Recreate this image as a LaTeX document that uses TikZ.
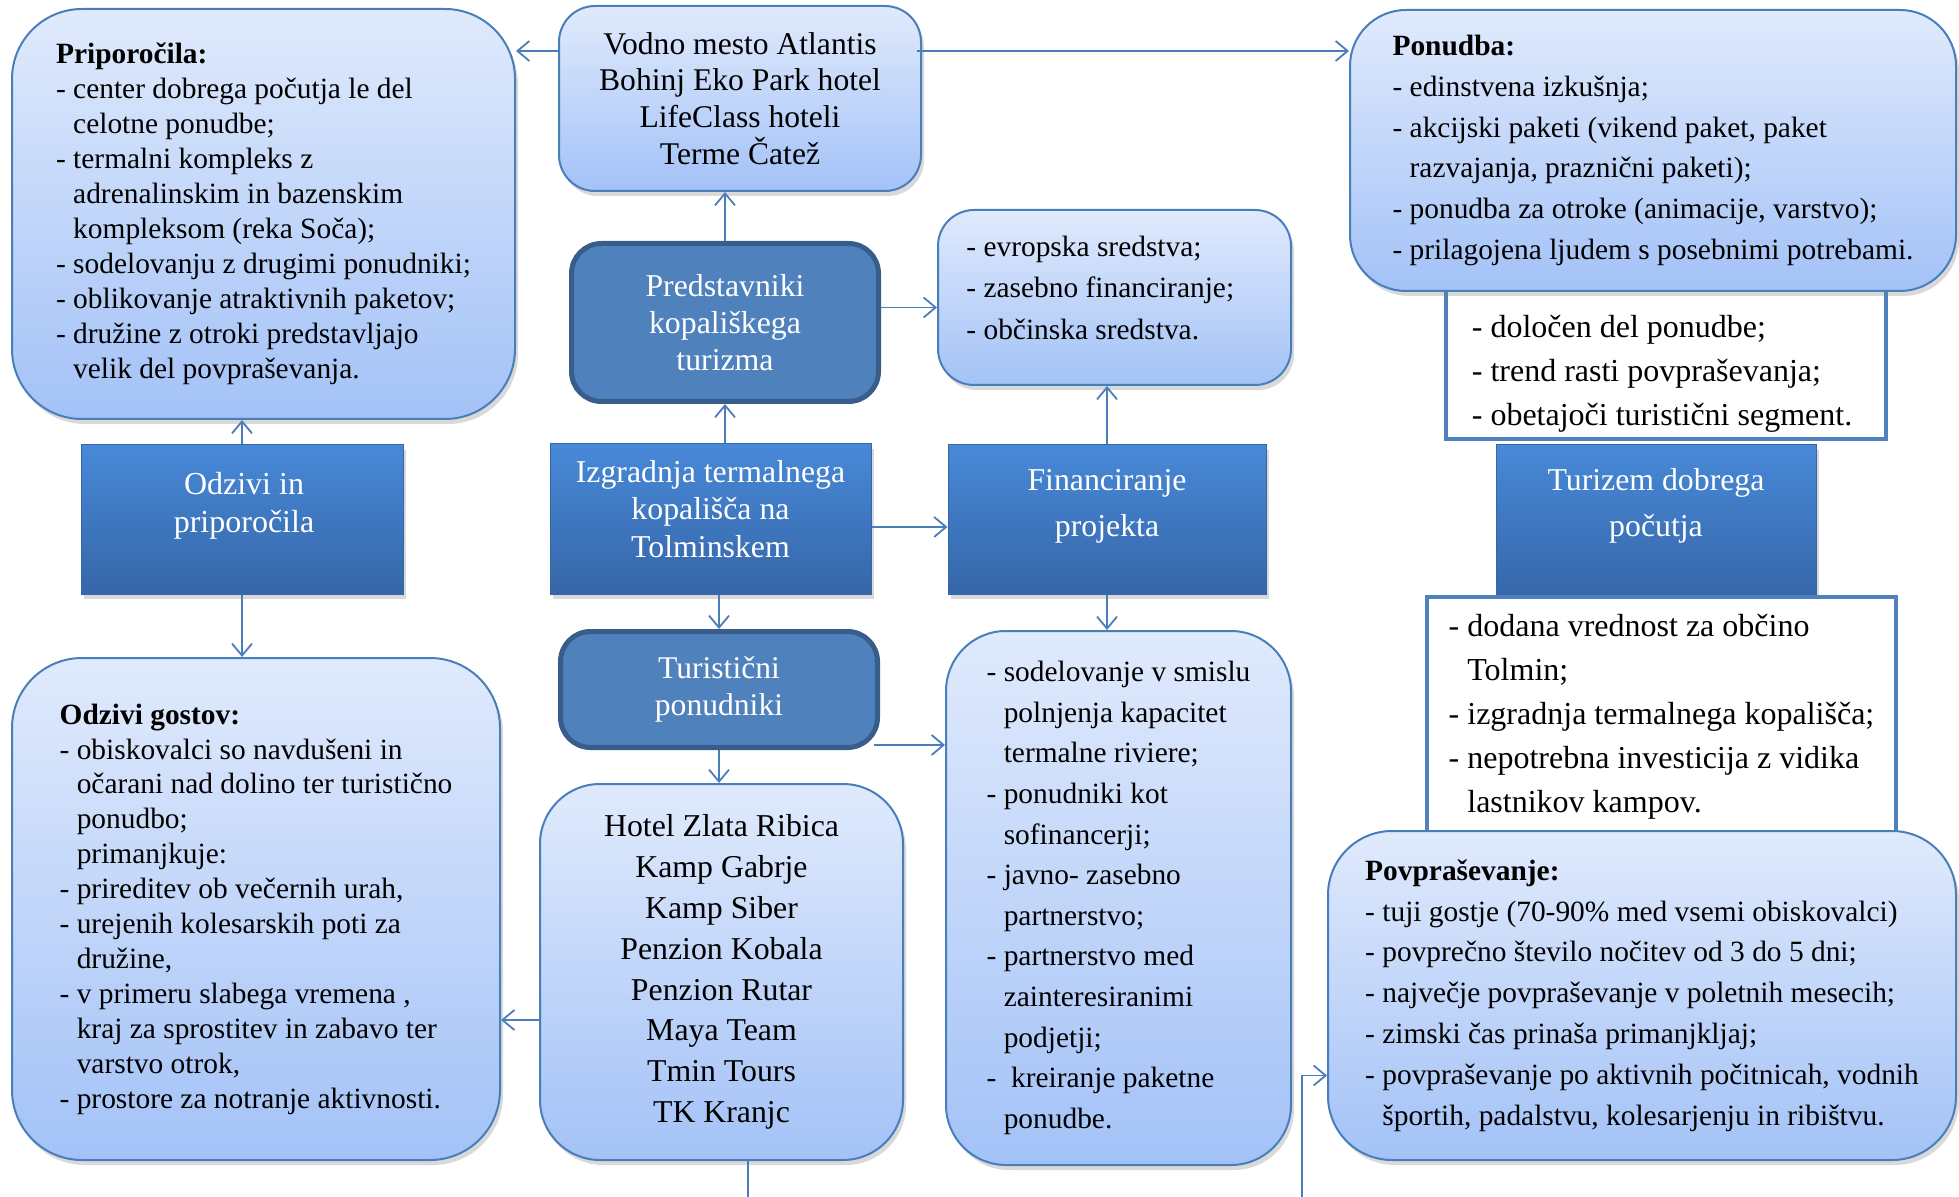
\documentclass[tikz,border=0pt]{standalone}
\usepackage{fontspec}
\setmainfont{Liberation Serif}
\usetikzlibrary{arrows.meta, calc, shadows}

\definecolor{lineblue}{HTML}{4A7EBB}
\definecolor{lighttop}{HTML}{E0EAFC}
\definecolor{lightbot}{HTML}{A3C2F7}
\definecolor{darkfill}{HTML}{4F81BD}
\definecolor{darkedge}{HTML}{385D8A}
\definecolor{beveltop}{HTML}{4889D8}
\definecolor{bevelbot}{HTML}{3566A8}

\newcommand{\boxfont}[2]{\fontsize{#1pt}{#2pt}\selectfont}
\newcommand{\listind}{\phantom{-\ }}

\tikzset{
  boxshadow/.style={drop shadow={shadow xshift=1.5pt, shadow yshift=-2.5pt, opacity=0.3}},
  lightbox/.style={draw=lineblue, line width=1pt, top color=lighttop, bottom color=lightbot,
    boxshadow, align=left, inner sep=0pt},
  darkbox/.style={draw=darkedge, line width=2.5pt, fill=darkfill, rounded corners=15pt,
    text=white, align=center, inner sep=0pt},
  bevelbox/.style={draw=bevelbot, line width=0.5pt, top color=beveltop, bottom color=bevelbot,
    boxshadow, inner sep=0pt},
  whitebox/.style={draw=darkfill, line width=2pt, fill=white, align=left, inner sep=0pt},
  whitetxt/.style={text=white, align=center, inner sep=0pt},
  arr/.style={draw=lineblue, line width=0.9pt, -{Straight Barb[length=6pt,width=10pt]}},
  link/.style={draw=lineblue, line width=0.9pt}
}

\begin{document}
\begin{tikzpicture}[x=0.5pt,y=-0.5pt]
    \useasboundingbox (0,0) rectangle (1959,1197);

    % top row
    \node[lightbox, rounded corners=35pt, minimum width=251.5pt, minimum height=205pt,
      font=\boxfont{14.7}{17.5}] (prip) at (263.5,214) {\textbf{Priporočila:}\\
      - center dobrega počutja le del\\
      \listind celotne ponudbe;\\
      - termalni kompleks z\\
      \listind adrenalinskim in bazenskim\\
      \listind kompleksom (reka Soča);\\
      - sodelovanju z drugimi ponudniki;\\
      - oblikovanje atraktivnih paketov;\\
      - družine z otroki predstavljajo\\
      \listind velik del povpraševanja.};
    \node[lightbox, align=center, rounded corners=18pt, minimum width=181pt, minimum height=92.5pt,
      font=\boxfont{15.8}{18.35}] (vodno) at (740,98.5)
      {Vodno mesto Atlantis\\Bohinj Eko Park hotel\\LifeClass hoteli\\Terme Čatež};
    \node[whitebox, minimum width=220pt, minimum height=77pt] (dol) at (1666,362) {};
    \node[align=left, inner sep=0pt, font=\boxfont{16}{21.9}] (dol-t) at (1662,374)
      {- določen del ponudbe;\\- trend rasti povpraševanja;\\- obetajoči turistični segment.};
    \node[lightbox, rounded corners=28pt, minimum width=303pt, minimum height=140.5pt,
      font=\boxfont{14.7}{20.4}] (ponudba) at (1653,150.5) {\textbf{Ponudba:}\\
      - edinstvena izkušnja;\\
      - akcijski paketi (vikend paket, paket\\
      \listind razvajanja, praznični paketi);\\
      - ponudba za otroke (animacije, varstvo);\\
      - prilagojena ljudem s posebnimi potrebami.};

    % second row
    \node[darkbox, minimum width=153.5pt, minimum height=79pt, font=\boxfont{15.9}{18.5}] (pred) at (725,322.5)
      {Predstavniki\\kopališkega\\turizma};
    \node[lightbox, rounded corners=18pt, minimum width=176.5pt, minimum height=87.5pt] (evr) at (1114.5,297.5) {};
    \node[anchor=north west, align=left, inner sep=0pt, font=\boxfont{14.7}{20.6}] (evr-t) at (966,236)
      {- evropska sredstva;\\- zasebno financiranje;\\- občinska sredstva.};

    % middle row of rectangles
    \node[bevelbox, minimum width=161pt, minimum height=74.5pt] (odz) at (242,519.5) {};
    \node[whitetxt, font=\boxfont{16}{18.75}] (odz-t) at (244,506) {Odzivi in\\priporočila};
    \node[bevelbox, minimum width=160.5pt, minimum height=75pt] (izg) at (710.5,519) {};
    \node[whitetxt, font=\boxfont{15.9}{18.75}] (izg-t) at (710.5,509) {Izgradnja termalnega\\kopališča na\\Tolminskem};
    \node[bevelbox, minimum width=159pt, minimum height=74.5pt] (fin) at (1107,519.5) {};
    \node[whitetxt, font=\boxfont{15.9}{23}] (fin-t) at (1107,506) {Financiranje\\projekta};
    \node[bevelbox, minimum width=160pt, minimum height=77.5pt] (tur) at (1656,522.5) {};
    \node[whitetxt, font=\boxfont{15.9}{23}] (tur-t) at (1656,506) {Turizem dobrega\\počutja};

    % lower part
    \node[whitebox, minimum width=234.5pt, minimum height=119.5pt, font=\boxfont{16}{22}] (dod) at (1661.5,716.5)
      {- dodana vrednost za občino\\
      \listind Tolmin;\\
      - izgradnja termalnega kopališča;\\
      - nepotrebna investicija z vidika\\
      \listind lastnikov kampov.};
    \node[darkbox, minimum width=158.5pt, minimum height=58pt, font=\boxfont{15.8}{18.75}] (tp) at (719,689.5)
      {Turistični\\ponudniki};
    \node[lightbox, rounded corners=35pt, minimum width=244pt, minimum height=251pt,
      font=\boxfont{14.7}{17.45}] (og) at (256,909) {\textbf{Odzivi gostov:}\\
      - obiskovalci so navdušeni in\\
      \listind očarani nad dolino ter turistično\\
      \listind ponudbo;\\
      \listind primanjkuje:\\
      - prireditev ob večernih urah,\\
      - urejenih kolesarskih poti za\\
      \listind družine,\\
      - v primeru slabega vremena ,\\
      \listind kraj za sprostitev in zabavo ter\\
      \listind varstvo otrok,\\
      - prostore za notranje aktivnosti.};
    \node[lightbox, align=center, rounded corners=30pt, minimum width=181.5pt, minimum height=188pt,
      font=\boxfont{15.9}{20.4}] (hot) at (721.5,972)
      {Hotel Zlata Ribica\\Kamp Gabrje\\Kamp Siber\\Penzion Kobala\\Penzion Rutar\\Maya Team\\Tmin Tours\\TK Kranjc};
    \node[lightbox, rounded corners=30pt, minimum width=172.5pt, minimum height=267pt,
      font=\boxfont{14.7}{20.3}] (sod) at (1118.5,898) {- sodelovanje v smislu\\
      \listind polnjenja kapacitet\\
      \listind termalne riviere;\\
      - ponudniki kot\\
      \listind sofinancerji;\\
      - javno- zasebno\\
      \listind partnerstvo;\\
      - partnerstvo med\\
      \listind zainteresiranimi\\
      \listind podjetji;\\
      -\ \ kreiranje paketne\\
      \listind ponudbe.};
    \node[lightbox, rounded corners=32pt, minimum width=314pt, minimum height=164.5pt,
      font=\boxfont{14.7}{20.4}] (pov) at (1642,995.5) {\textbf{Povpraševanje:}\\
      - tuji gostje (70-90\% med vsemi obiskovalci)\\
      - povprečno število nočitev od 3 do 5 dni;\\
      - največje povpraševanje v poletnih mesecih;\\
      - zimski čas prinaša primanjkljaj;\\
      - povpraševanje po aktivnih počitnicah, vodnih\\
      \listind športih, padalstvu, kolesarjenju in ribištvu.};

    % connectors
    \draw[arr] ($(vodno.north west)+(0,46)$) coordinate (v1) -- (v1 -| prip.east);
    \draw[arr] ($(vodno.north east)+(-5,46)$) coordinate (v2) -- (v2 -| ponudba.west);
    \draw[arr] (pred.north) -- (pred.north |- vodno.south);
    \draw[arr] (pred.south |- izg.north) -- (pred.south);
    \draw[arr] ($(pred.east)+(0,-15)$) coordinate (p1) -- (p1 -| evr.west);
    \draw[arr] (fin.north) -- (fin.north |- evr.south);
    \draw[arr] ($(izg.east)+(0,8)$) coordinate (i1) -- (i1 -| fin.west);
    \draw[arr] (tp.north |- izg.south) -- (tp.north);
    \draw[arr] (fin.south) -- (fin.south |- sod.north);
    \draw[arr] (odz.north) -- (odz.north |- prip.south);
    \draw[arr] (odz.south) -- (odz.south |- og.north);
    \draw[arr] (tp.south) -- (tp.south |- hot.north);
    \draw[arr] ($(tp.south east)+(-6,-5)$) coordinate (t1) -- (t1 -| sod.west);
    \draw[arr] ($(hot.west)+(0,48)$) coordinate (h1) -- (h1 -| og.east);
    % lines leaving the picture
    \coordinate (hotout) at (748,1197);
    \draw[link] (hotout |- hot.south) -- (hotout);
    \coordinate (povin) at (1302,1197);
    \draw[arr] (povin) |- ($(pov.west)+(0,80)$);
\end{tikzpicture}
\end{document}
